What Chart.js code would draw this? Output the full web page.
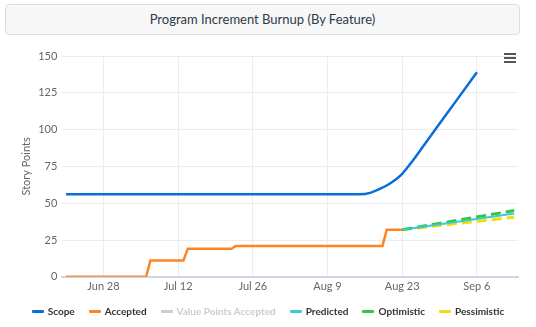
<!DOCTYPE html>
<html>
<head>
<meta charset="utf-8">
<script src="https://cdn.jsdelivr.net/npm/chart.js@4.4.1/dist/chart.umd.min.js"></script>
<style>
  html, body { margin: 0; padding: 0; background: #fff; }
  #wrap { position: relative; width: 536px; height: 327px; font-family: Lato, "Open Sans", sans-serif; }
  #title {
    position: absolute; left: 5px; top: 4px; width: 513px; height: 29px;
    border: 1px solid #dedede; border-radius: 4px; background: #f7f7f7;
    text-align: center; line-height: 29px; font-size: 13px; color: #2c3a4b;
  }
  #menu { position: absolute; left: 504px; top: 53px; width: 12px; }
  #menu span { display: block; height: 2px; background: #555; margin-bottom: 2px; }
  #legend {
    position: absolute; left: 0; top: 304px; width: 536px; height: 14px;
    display: flex; justify-content: center; align-items: center;
    font-size: 10px; font-weight: bold; color: #333;
  }
  #legend .item { display: flex; align-items: center; margin: 0 7px; white-space: nowrap; }
  #legend .mark { width: 12px; height: 3px; border-radius: 1px; margin-right: 4px; }
  canvas { position: absolute; left: 0; top: 0; }
</style>
</head>
<body>
<div id="wrap">
  <canvas id="chart" width="536" height="327"></canvas>
  <div id="title">Program Increment Burnup (By Feature)</div>
  <div id="menu"><span></span><span></span><span></span></div>
  <div id="legend"></div>
</div>
<script>
// day 0 = Jun 21
const tickDays = [7, 21, 35, 49, 63, 77];
const tickLabels = ["Jun 28", "Jul 12", "Jul 26", "Aug 9", "Aug 23", "Sep 6"];

const scopeDays = [0, 55, 57, 59, 61, 63, 65, 67, 69, 71, 73, 75, 77];
const scopeValues = [56, 56, 57, 60, 64, 70, 79, 89, 99, 109, 119, 129, 139];

const acceptedDays = [0, 15, 15.8, 22, 22.8, 31, 31.8, 59.3, 60.1, 63];
const acceptedValues = [0, 0, 11, 11, 19, 19, 21, 21, 32, 32];

const forecastDays = [63, 84];
const predictedValues = [32, 43];
const optimisticValues = [32, 45];
const pessimisticValues = [32, 40.5];

function pts(xs, ys) {
  return xs.map((x, i) => ({ x: x, y: ys[i] }));
}

const chart = new Chart(document.getElementById("chart"), {
  type: "line",
  data: {
    datasets: [
      {
        label: "Scope",
        data: pts(scopeDays, scopeValues),
        borderColor: "#0a6ed8",
        borderWidth: 2.5,
        cubicInterpolationMode: "monotone",
      },
      {
        label: "Accepted",
        data: pts(acceptedDays, acceptedValues),
        borderColor: "#fd8424",
        borderWidth: 2.5,
      },
      {
        label: "Value Points Accepted",
        data: [],
        borderColor: "#cccccc",
      },
      {
        label: "Predicted",
        data: pts(forecastDays, predictedValues),
        borderColor: "#3cc8d6",
        borderWidth: 2,
      },
      {
        label: "Optimistic",
        data: pts(forecastDays, optimisticValues),
        borderColor: "#2ec840",
        borderWidth: 3,
        borderDash: [10, 5],
      },
      {
        label: "Pessimistic",
        data: pts(forecastDays, pessimisticValues),
        borderColor: "#f3dc0a",
        borderWidth: 3,
        borderDash: [10, 5],
      },
    ],
  },
  options: {
    responsive: false,
    animation: false,
    layout: { padding: { top: 56, right: 18, left: 20, bottom: 31 } },
    elements: { point: { radius: 0 }, line: { tension: 0 } },
    plugins: {
      tooltip: { enabled: false },
      legend: { display: false },
    },
    scales: {
      x: {
        type: "linear",
        min: -0.7,
        max: 84.7,
        afterBuildTicks: (axis) => {
          axis.ticks = tickDays.map((v) => ({ value: v }));
        },
        ticks: {
          callback: (v) => tickLabels[tickDays.indexOf(v)],
          font: { family: "Lato", size: 11 },
          color: "#666",
          maxRotation: 0,
          padding: 3,
        },
        grid: { color: "#ececec", drawTicks: false },
        border: { color: "#ccd6eb", width: 2 },
      },
      y: {
        min: 0,
        max: 150,
        ticks: {
          stepSize: 25,
          font: { family: "Lato", size: 11 },
          color: "#666",
          padding: 5,
        },
        title: {
          display: true,
          text: "Story Points",
          font: { family: "Lato", size: 11 },
          color: "#666",
          padding: 0,
        },
        grid: { color: "#ececec", drawTicks: false },
        border: { display: false },
      },
    },
  },
});

// legend built from the datasets (hidden series shown greyed)
const legend = document.getElementById("legend");
chart.data.datasets.forEach((d) => {
  const item = document.createElement("div");
  item.className = "item";
  const mark = document.createElement("span");
  mark.className = "mark";
  mark.style.background = d.borderColor;
  const text = document.createElement("span");
  text.textContent = d.label;
  if (d.label === "Value Points Accepted") text.style.color = "#cccccc";
  item.appendChild(mark);
  item.appendChild(text);
  legend.appendChild(item);
});
</script>
</body>
</html>
